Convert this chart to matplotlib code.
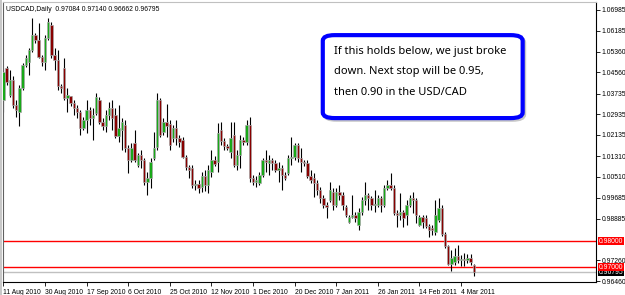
import numpy as np
import matplotlib
matplotlib.use("Agg")
import matplotlib.pyplot as plt
from matplotlib.patches import FancyBboxPatch

# daily USDCAD candles
opens = [1.0349, 1.0473, 1.0368, 1.0426, 1.0329, 1.0302, 1.0395, 1.0485, 1.0496, 1.0543,
         1.0601, 1.0582, 1.0516, 1.0496, 1.0589, 1.0640, 1.0523, 1.0504, 1.0403, 1.0473,
         1.0356, 1.0364, 1.0337, 1.0318, 1.0302, 1.0240, 1.0271, 1.0310, 1.0279, 1.0298,
         1.0349, 1.0263, 1.0248, 1.0290, 1.0318, 1.0290, 1.0209, 1.0232, 1.0252, 1.0162,
         1.0116, 1.0182, 1.0096, 1.0135, 1.0116, 1.0030, 1.0046, 1.0123, 1.0166, 1.0349,
         1.0224, 1.0263, 1.0255, 1.0201, 1.0240, 1.0201, 1.0193, 1.0127, 1.0088, 1.0085,
         1.0018, 1.0022, 1.0011, 1.0053, 1.0018, 1.0069, 1.0116, 1.0108, 1.0232, 1.0189,
         1.0170, 1.0147, 1.0213, 1.0096, 1.0135, 1.0193, 1.0185, 1.0252, 1.0046, 1.0030,
         1.0026, 1.0057, 1.0116, 1.0104, 1.0116, 1.0104, 1.0077, 1.0085, 1.0057, 1.0065,
         1.0123, 1.0127, 1.0174, 1.0123, 1.0108, 1.0104, 1.0053, 1.0046, 1.0026, 0.9999,
         0.9968, 0.9941, 0.9960, 0.9991, 0.9941, 0.9991, 0.9980, 0.9933, 0.9875, 0.9894,
         0.9902, 0.9863, 0.9914, 0.9960, 0.9980, 0.9968, 0.9941, 0.9941, 0.9968, 0.9941,
         1.0007, 1.0018, 1.0007, 0.9910, 0.9902, 0.9914, 0.9902, 0.9941, 0.9968, 0.9960,
         0.9863, 0.9894, 0.9890, 0.9859, 0.9851, 0.9836, 0.9883, 0.9929, 0.9828, 0.9782,
         0.9712, 0.9719, 0.9743, 0.9727, 0.9731, 0.9727, 0.9735, 0.97084]
highs = [1.0473, 1.0481, 1.0465, 1.0442, 1.0349, 1.0407, 1.0492, 1.0523, 1.0551, 1.0667,
         1.0609, 1.0648, 1.0523, 1.0601, 1.0667, 1.0652, 1.0551, 1.0543, 1.0411, 1.0512,
         1.0395, 1.0364, 1.0349, 1.0329, 1.0310, 1.0283, 1.0349, 1.0321, 1.0318, 1.0376,
         1.0360, 1.0279, 1.0310, 1.0341, 1.0349, 1.0318, 1.0329, 1.0279, 1.0271, 1.0174,
         1.0182, 1.0232, 1.0143, 1.0154, 1.0123, 1.0069, 1.0123, 1.0224, 1.0376, 1.0356,
         1.0279, 1.0333, 1.0271, 1.0252, 1.0271, 1.0213, 1.0205, 1.0135, 1.0096, 1.0096,
         1.0038, 1.0038, 1.0069, 1.0077, 1.0096, 1.0154, 1.0131, 1.0259, 1.0263, 1.0201,
         1.0178, 1.0263, 1.0263, 1.0154, 1.0213, 1.0205, 1.0271, 1.0283, 1.0057, 1.0053,
         1.0069, 1.0123, 1.0154, 1.0135, 1.0123, 1.0116, 1.0108, 1.0096, 1.0069, 1.0135,
         1.0205, 1.0182, 1.0182, 1.0162, 1.0116, 1.0116, 1.0077, 1.0065, 1.0038, 1.0011,
         0.9980, 0.9952, 1.0030, 1.0007, 1.0007, 1.0018, 0.9991, 0.9941, 0.9902, 0.9980,
         0.9914, 0.9929, 0.9972, 1.0030, 0.9987, 0.9976, 0.9999, 0.9980, 0.9976, 1.0018,
         1.0038, 1.0065, 1.0018, 0.9921, 0.9987, 0.9921, 0.9960, 0.9980, 0.9991, 0.9968,
         0.9902, 0.9902, 0.9902, 0.9867, 0.9863, 0.9960, 0.9968, 0.9941, 0.9836, 0.9785,
         0.9766, 0.9774, 0.9785, 0.9747, 0.9754, 0.9750, 0.9750, 0.97140]
lows = [1.0302, 1.0407, 1.0360, 1.0318, 1.0283, 1.0248, 1.0387, 1.0477, 1.0446, 1.0535,
        1.0570, 1.0512, 1.0481, 1.0465, 1.0582, 1.0512, 1.0465, 1.0387, 1.0376, 1.0349,
        1.0302, 1.0325, 1.0290, 1.0279, 1.0213, 1.0232, 1.0220, 1.0252, 1.0193, 1.0290,
        1.0255, 1.0232, 1.0224, 1.0271, 1.0232, 1.0201, 1.0185, 1.0154, 1.0147, 1.0065,
        1.0108, 1.0108, 1.0088, 1.0085, 1.0018, 0.9980, 1.0007, 1.0116, 1.0154, 1.0205,
        1.0213, 1.0205, 1.0154, 1.0185, 1.0174, 1.0166, 1.0123, 1.0077, 1.0046, 1.0007,
        0.9999, 0.9987, 0.9991, 0.9995, 0.9987, 1.0050, 1.0092, 1.0069, 1.0174, 1.0154,
        1.0154, 1.0123, 1.0088, 1.0077, 1.0085, 1.0174, 1.0174, 1.0030, 1.0018, 1.0011,
        1.0018, 1.0050, 1.0069, 1.0057, 1.0077, 1.0069, 1.0030, 0.9999, 1.0038, 1.0057,
        1.0096, 1.0116, 1.0108, 1.0069, 1.0092, 1.0046, 1.0026, 0.9972, 0.9980, 0.9949,
        0.9929, 0.9890, 0.9952, 0.9921, 0.9933, 0.9960, 0.9921, 0.9894, 0.9871, 0.9890,
        0.9875, 0.9844, 0.9902, 0.9941, 0.9921, 0.9921, 0.9914, 0.9933, 0.9914, 0.9933,
        0.9999, 0.9999, 0.9902, 0.9855, 0.9883, 0.9855, 0.9863, 0.9933, 0.9910, 0.9871,
        0.9859, 0.9851, 0.9851, 0.9816, 0.9824, 0.9824, 0.9875, 0.9820, 0.9774, 0.9708,
        0.9684, 0.9708, 0.9716, 0.9704, 0.9704, 0.9716, 0.9708, 0.96662]
closes = [1.0457, 1.0419, 1.0426, 1.0329, 1.0310, 1.0395, 1.0485, 1.0512, 1.0543, 1.0601,
          1.0582, 1.0516, 1.0496, 1.0589, 1.0652, 1.0523, 1.0504, 1.0403, 1.0395, 1.0356,
          1.0368, 1.0337, 1.0318, 1.0302, 1.0240, 1.0271, 1.0310, 1.0279, 1.0290, 1.0360,
          1.0263, 1.0248, 1.0290, 1.0318, 1.0279, 1.0209, 1.0240, 1.0263, 1.0162, 1.0116,
          1.0162, 1.0116, 1.0135, 1.0116, 1.0030, 1.0046, 1.0108, 1.0162, 1.0349, 1.0213,
          1.0263, 1.0248, 1.0174, 1.0240, 1.0201, 1.0185, 1.0127, 1.0088, 1.0077, 1.0018,
          1.0022, 1.0007, 1.0053, 1.0018, 1.0077, 1.0116, 1.0100, 1.0220, 1.0189, 1.0170,
          1.0162, 1.0201, 1.0096, 1.0135, 1.0193, 1.0185, 1.0252, 1.0046, 1.0030, 1.0038,
          1.0057, 1.0116, 1.0108, 1.0116, 1.0104, 1.0077, 1.0085, 1.0057, 1.0046, 1.0123,
          1.0127, 1.0174, 1.0123, 1.0108, 1.0104, 1.0053, 1.0038, 1.0026, 0.9999, 0.9968,
          0.9941, 0.9933, 0.9999, 0.9941, 0.9991, 0.9980, 0.9941, 0.9902, 0.9894, 0.9902,
          0.9890, 0.9914, 0.9960, 0.9980, 0.9968, 0.9941, 0.9945, 0.9968, 0.9941, 1.0007,
          1.0018, 1.0007, 0.9910, 0.9902, 0.9914, 0.9890, 0.9941, 0.9968, 0.9960, 0.9902,
          0.9894, 0.9875, 0.9859, 0.9844, 0.9844, 0.9902, 0.9929, 0.9828, 0.9782, 0.9712,
          0.9735, 0.9743, 0.9727, 0.9731, 0.9727, 0.9735, 0.9719, 0.96795]

date_ticks = [0, 13, 26, 39, 52, 65, 78, 91, 104, 117, 130, 143]
date_labels = ["11 Aug 2010", "30 Aug 2010", "17 Sep 2010", "6 Oct 2010", "25 Oct 2010",
               "12 Nov 2010", "1 Dec 2010", "20 Dec 2010", "7 Jan 2011", "26 Jan 2011",
               "14 Feb 2011", "4 Mar 2011"]
price_ticks = [1.06985, 1.06185, 1.05360, 1.04560, 1.03735, 1.02935, 1.02135, 1.01310,
               1.00510, 0.99685, 0.98885, 0.97260, 0.96460]
levels = [0.98, 0.97]
bid = 0.96795

o = np.array(opens); h = np.array(highs); l = np.array(lows); c = np.array(closes)
x = np.arange(len(o))
up = c >= o

SMALL = dict(family="Liberation Sans", size=4.9)

fig = plt.figure(figsize=(6.25, 2.95), dpi=100)
fig.patches.append(plt.Rectangle((0, 0), 0.0035, 1, transform=fig.transFigure,
                                 fc="#c8c8c8", ec="none"))
ax = fig.add_axes([0.004, 0.043, 0.949, 0.950])

ax.axhline(bid, color="#c0c0c0", lw=1.0, zorder=1)
for lv in levels:
    ax.axhline(lv, color="red", lw=1.0, zorder=1)

ax.vlines(x, l, h, color="black", lw=0.8, zorder=2)
ax.bar(x[up], c[up] - o[up], bottom=o[up], width=0.75, color="#18a818",
       edgecolor="#a8a8a8", lw=0.5, zorder=3)
ax.bar(x[~up], c[~up] - o[~up], bottom=o[~up], width=0.75, color="#880000",
       edgecolor="#a8a8a8", lw=0.5, zorder=3)

ax.set_xlim(-0.3, 185.1)
ax.set_ylim(0.9641, 1.0729)

ax.yaxis.tick_right()
ax.set_yticks(price_ticks)
ax.set_yticklabels([f"{v:.5f}" for v in price_ticks], fontdict=SMALL)
ax.set_xticks(date_ticks)
ax.set_xticklabels(date_labels, fontdict=SMALL, ha="left")
ax.tick_params(axis="both", direction="out", length=3, width=0.6, pad=1.2)
ax.tick_params(axis="x", pad=1.5)

ax.spines["top"].set_color("#c0c0c0")
ax.spines["left"].set_color("#606060")
for s in ["right", "bottom"]:
    ax.spines[s].set_color("black")
for s in ax.spines.values():
    s.set_linewidth(0.8)

# price tags on the right axis (red level tags sit over the bid tag)
tr = ax.get_yaxis_transform()
ax.text(1.005, bid, f"{bid:.5f}", transform=tr, color="white", va="center",
        ha="left", zorder=6, bbox=dict(boxstyle="square,pad=0.08", fc="black", ec="none"),
        **SMALL)
for lv in levels:
    ax.text(1.005, lv, f"{lv:.5f}", transform=tr, color="white", va="center",
            ha="left", zorder=7, bbox=dict(boxstyle="square,pad=0.08", fc="red", ec="none"),
            **SMALL)

ax.text(0.006, 0.985, "USDCAD,Daily  0.97084 0.97140 0.96662 0.96795",
        transform=ax.transAxes, va="top", ha="left", **SMALL)

# annotation box
shadow = FancyBboxPatch((0.543, 0.579), 0.337, 0.296, transform=ax.transAxes,
                        boxstyle="round,pad=0,rounding_size=0.02", fc="#c8c8c8",
                        ec="#c8c8c8", lw=2.5, zorder=7)
box = FancyBboxPatch((0.540, 0.586), 0.337, 0.296, transform=ax.transAxes,
                     boxstyle="round,pad=0,rounding_size=0.02", fc="white",
                     ec="#0000ff", lw=3.0, zorder=8)
ax.add_patch(shadow)
ax.add_patch(box)
note = ["If this holds below, we just broke",
        "down. Next stop will be 0.95,",
        "then 0.90 in the USD/CAD"]
for i, line in enumerate(note):
    ax.text(0.559, 0.822 - i * 0.0715, line, transform=ax.transAxes, fontsize=8.0,
            family="Noto Sans", va="center", ha="left", zorder=9)

fig.savefig("out.png", dpi=100)
